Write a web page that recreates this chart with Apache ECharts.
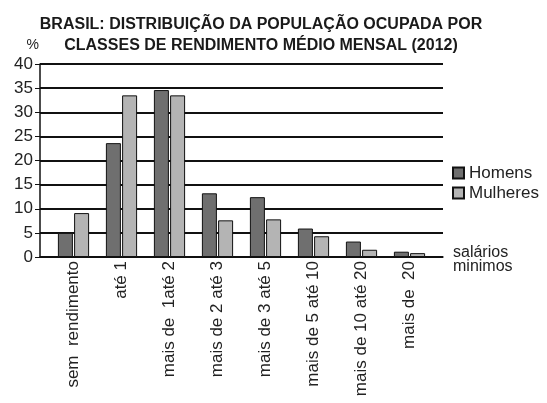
<!DOCTYPE html>
<html>
<head>
<meta charset="utf-8">
<script src="https://cdn.jsdelivr.net/npm/echarts@6/dist/echarts.min.js"></script>
<style>
html,body{margin:0;padding:0;background:#fff;}
#chart{width:547px;height:403px;}
</style>
</head>
<body>
<div id="chart"></div>
<script>
const titleText = 'BRASIL: DISTRIBUIÇÃO DA POPULAÇÃO OCUPADA POR\nCLASSES DE RENDIMENTO MÉDIO MENSAL (2012)';
const categories = ['sem  rendimento', 'até 1', 'mais de  1até 2', 'mais de 2 até 3', 'mais de 3 até 5', 'mais de 5 até 10', 'mais de 10 até 20', 'mais de  20'];
const homens = [5.0, 23.6, 34.6, 13.2, 12.4, 5.9, 3.2, 1.1];
const mulheres = [9.1, 33.5, 33.5, 7.6, 7.8, 4.3, 1.5, 0.8];
const seriesNames = ['Homens', 'Mulheres'];
const yMin = 0, yMax = 40, yStep = 5;
const yUnit = '%';
const xUnitLines = ['salários', 'minimos'];

const font = 'Liberation Sans, Arial, sans-serif';
const chart = echarts.init(document.getElementById('chart'), null, {renderer: 'canvas'});
chart.setOption({
  backgroundColor: '#fff',
  animation: false,
  title: {
    text: titleText,
    left: 256, top: 9, textAlign: 'center',
    textStyle: {fontFamily: font, fontSize: 16, fontWeight: 'bold', color: '#1a1a1a', lineHeight: 21}
  },
  legend: {
    data: seriesNames,
    orient: 'vertical',
    left: 452, top: 164, padding: 0,
    itemWidth: 11, itemHeight: 11, itemGap: 2,
    icon: 'rect',
    textStyle: {fontFamily: font, fontSize: 17, color: '#222', lineHeight: 18}
  },
  grid: [
    {left: 40, right: 104, top: 64, bottom: 146},
    {left: 49.5, right: 113.5, top: 64, bottom: 146}
  ],
  xAxis: [
    {
      gridIndex: 0, type: 'value', min: 0, max: 1,
      axisLine: {show: true, onZero: false, lineStyle: {color: '#111', width: 1.5}},
      axisTick: {show: false}, axisLabel: {show: false}, splitLine: {show: false},
      name: '{s|}\n' + xUnitLines.map(t => '{a|' + t + '}').join('\n'),
      nameLocation: 'end', nameGap: 10,
      nameTextStyle: {
        fontFamily: font, fontSize: 16, color: '#222', align: 'left', verticalAlign: 'middle',
        rich: {
          s: {lineHeight: 6, fontSize: 6},
          a: {fontFamily: font, fontSize: 16, color: '#222', lineHeight: 14}
        }
      }
    },
    {
      gridIndex: 1, type: 'category', data: categories,
      axisLine: {show: false}, axisTick: {show: false},
      axisLabel: {rotate: 90, margin: 4, interval: 0, fontFamily: font, fontSize: 17, color: '#222'}
    }
  ],
  yAxis: [
    {
      gridIndex: 0, type: 'value', min: yMin, max: yMax, interval: yStep,
      axisLine: {show: true, lineStyle: {color: '#111', width: 1.5}},
      axisTick: {show: true, length: 5, lineStyle: {color: '#111'}},
      axisLabel: {margin: 7, fontFamily: font, fontSize: 17, color: '#222'},
      splitLine: {show: true, lineStyle: {color: '#111', width: 2}},
      name: yUnit, nameLocation: 'end', nameGap: 12,
      nameTextStyle: {fontFamily: font, fontSize: 14, color: '#222', align: 'right', padding: [0, 1, 0, 0]}
    },
    {
      gridIndex: 1, type: 'value', min: yMin, max: yMax, interval: yStep,
      show: false
    }
  ],
  series: [
    {
      name: seriesNames[0], type: 'bar', xAxisIndex: 1, yAxisIndex: 1,
      data: homens, barWidth: 15, barGap: '8%',
      itemStyle: {color: '#6f6f6f', borderColor: '#111', borderWidth: 1}
    },
    {
      name: seriesNames[1], type: 'bar', xAxisIndex: 1, yAxisIndex: 1,
      data: mulheres, barWidth: 15, barGap: '8%',
      itemStyle: {color: '#b4b4b4', borderColor: '#111', borderWidth: 1}
    }
  ]
});
</script>
</body>
</html>
